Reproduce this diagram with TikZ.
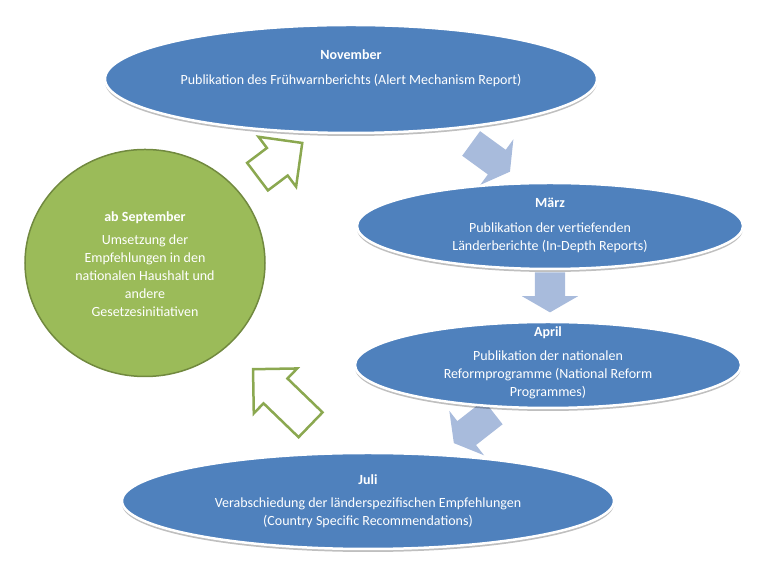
\documentclass[tikz,border=0pt]{standalone}
\usepackage{fontspec}
\setmainfont{Carlito}
\usepackage{tikz}
\usetikzlibrary{shapes, shapes.arrows, shadows, positioning, calc}
\definecolor{myblue}{HTML}{4F81BD}
\definecolor{mylightblue}{HTML}{A8BBDC}
\definecolor{mygreen}{HTML}{9BBB59}
\definecolor{mydarkgreen}{HTML}{71893F}
\tikzset{
   myellipse/.style={ellipse, draw=white, line width=2.5bp, fill=myblue, inner sep=0pt,
      drop shadow={shadow xshift=0bp, shadow yshift=-3bp, fill=black, opacity=.25}},
   mycircle/.style={ellipse, draw=mydarkgreen, line width=1.5bp, fill=mygreen, inner sep=0pt},
   mytext/.style={align=center, text=white, font=\fontsize{14bp}{18bp}\selectfont, inner sep=0pt},
   myflow/.style={single arrow, fill=mylightblue, draw=none, inner xsep=0pt, inner ysep=15bp,
      single arrow head extend=13bp, single arrow tip angle=120},
   myback/.style={single arrow, fill=white, draw=mygreen!90!black, line width=2.5bp,
      inner xsep=0pt, inner ysep=16bp, single arrow head extend=14bp, single arrow tip angle=90}
}

\begin{document}
\begin{tikzpicture}[x=1bp, y=1bp]
      \useasboundingbox (0,0) rectangle (770,576);
      \node[myflow, minimum height=48bp, rotate=-36] (flowa) at (487,421) {};
      \node[myflow, minimum height=40bp, rotate=-90] (flowb) at (550,288) {};
      \node[myflow, minimum height=50bp, rotate=-142] (flowc) at (477,151) {};
      \node[myback, minimum height=56bp, rotate=37] (backa) at (273,411) {};
      \node[myback, minimum height=80bp, rotate=136] (backb) at (288,173) {};
      \node[myellipse, minimum width=492bp, minimum height=108bp] (nov) at (351,497) {};
      \node[myellipse, minimum width=386bp, minimum height=86bp] (maerz) at (550,350) {};
      \node[myellipse, minimum width=386bp, minimum height=86bp] (april) at (548,211) {};
      \node[myellipse, minimum width=492bp, minimum height=96bp] (juli) at (368,75) {};
      \node[mycircle, minimum width=240bp, minimum height=227bp] (sept) at (145,313) {};
      \node[mytext] (novtxt) at ([yshift=11bp]nov.center) {\textbf{November}\\[7bp]Publikation des Frühwarnberichts (Alert Mechanism Report)};
      \node[mytext] (maerztxt) at ([yshift=1bp]maerz.center) {\textbf{März}\\[7bp]Publikation der vertiefenden\\Länderberichte (In-Depth Reports)};
      \node[mytext] (apriltxt) at ([yshift=2bp]april.center) {\textbf{April}\\[6bp]Publikation der nationalen\\Reformprogramme (National Reform\\Programmes)};
      \node[mytext] (julitxt) at (juli.center) {\textbf{Juli}\\[5bp]Verabschiedung der länderspezifischen Empfehlungen\\(Country Specific Recommendations)};
      \node[mytext] (septtxt) at ([yshift=-1bp]sept.center) {\textbf{ab September}\\[5bp]Umsetzung der\\Empfehlungen in den\\nationalen Haushalt und\\andere\\Gesetzesinitiativen};
\end{tikzpicture}
\end{document}
